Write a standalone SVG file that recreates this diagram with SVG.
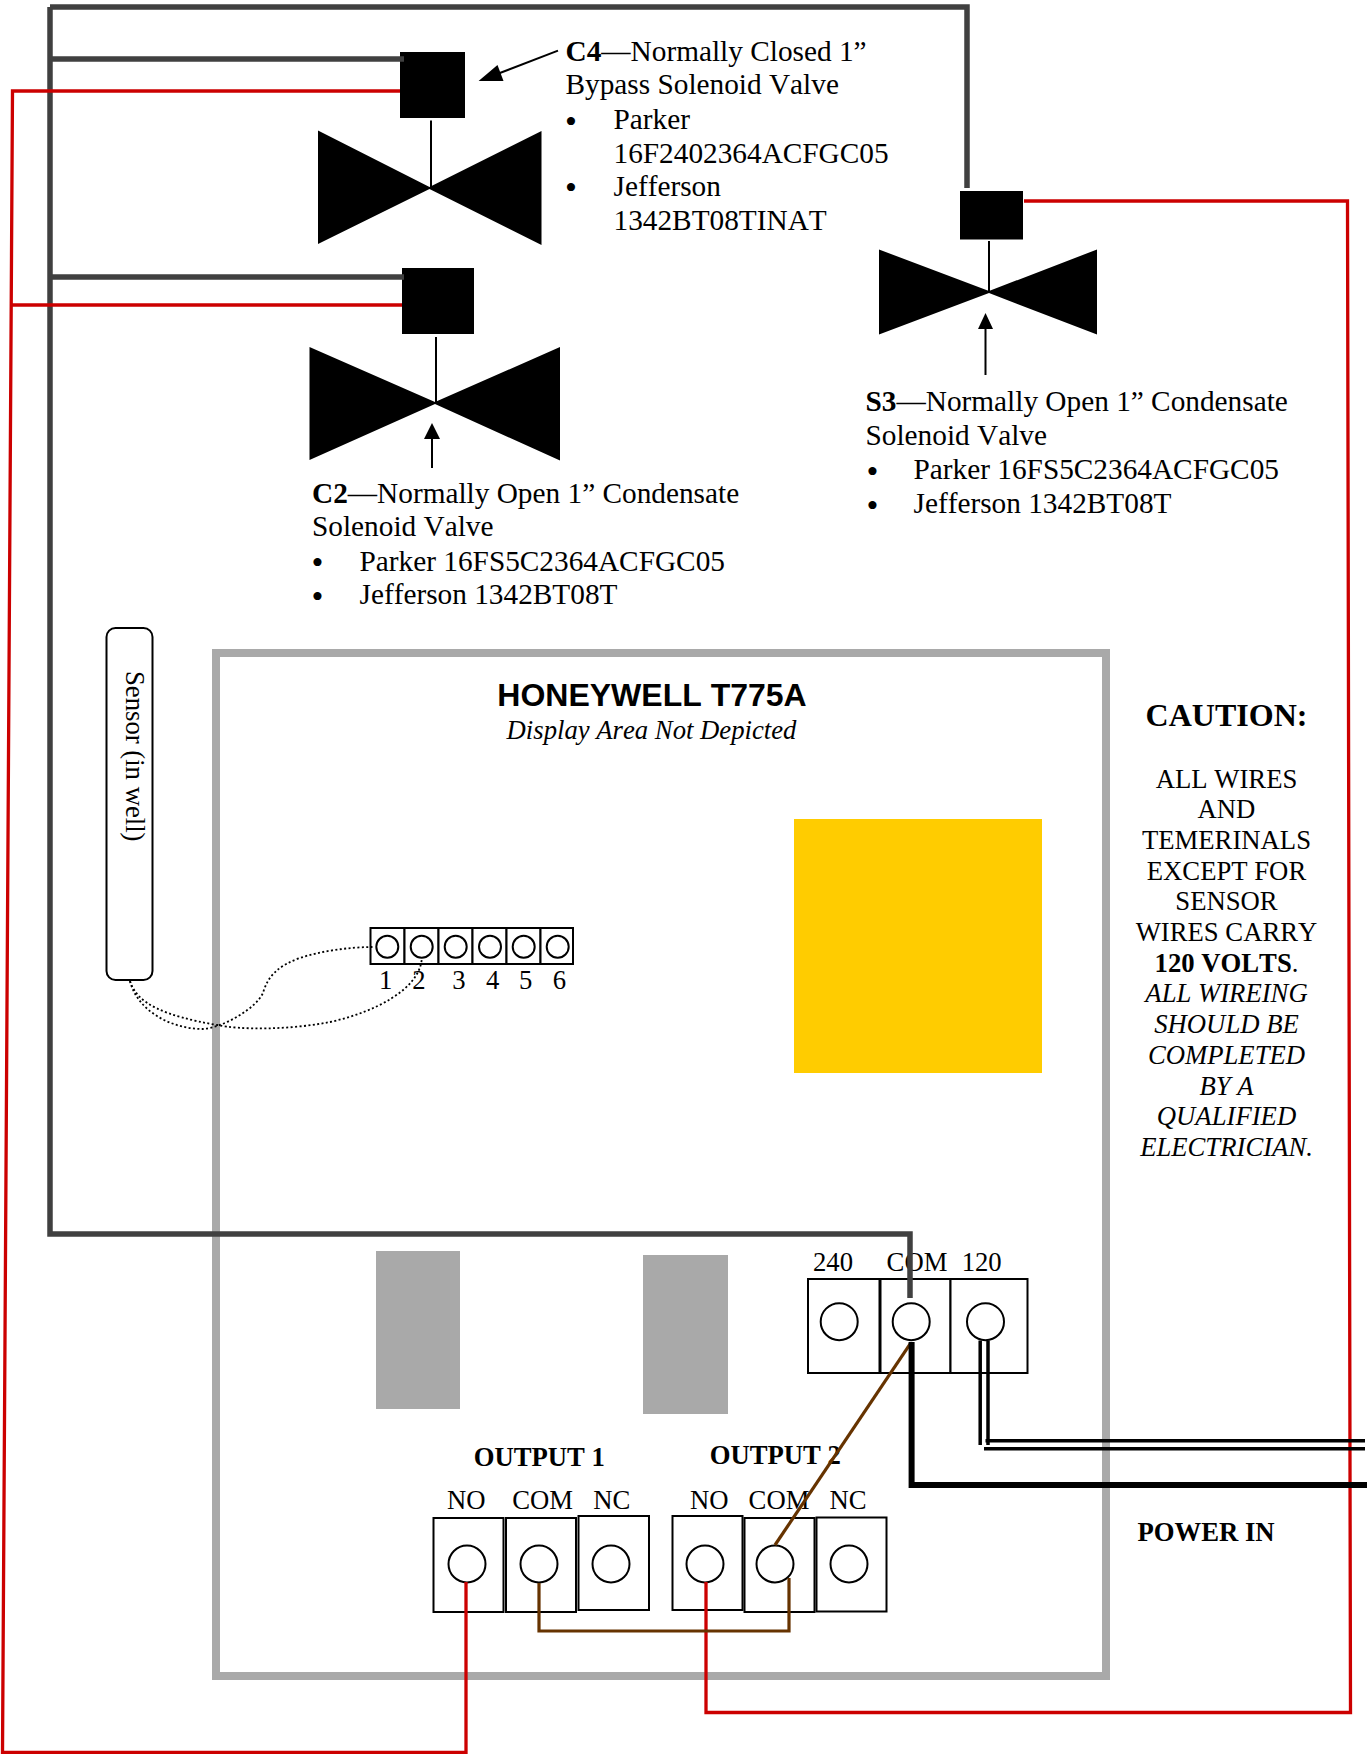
<svg xmlns="http://www.w3.org/2000/svg" width="1367" height="1754" viewBox="0 0 1367 1754">
<style>
text{font-family:"Liberation Serif","Times New Roman",serif;fill:#000;font-kerning:none}
.t{font-size:29.3px}
.s{font-size:26.7px}
.m{text-anchor:middle}
.b{font-weight:bold}
.i{font-style:italic}
.bu{font-size:34px;text-anchor:middle}
.box{fill:#fff;stroke:#000;stroke-width:2}
.hole{fill:none;stroke:#000;stroke-width:2}
.st{stroke:#000;stroke-width:2;fill:none}
.wire{fill:none;stroke-linejoin:miter}
.dk{stroke:#404040;stroke-width:5.500}
.rd{stroke:#cc0000;stroke-width:3.300}
.br{stroke:#663300;stroke-width:3.200}
.bk{stroke:#000}
.dot{fill:none;stroke:#000;stroke-width:1.800;stroke-dasharray:2 2.400}
</style>
<rect width="1367" height="1754" fill="#fff"/>
<g id="controller">
<rect x="216" y="653" width="890" height="1023" fill="#fff" stroke="#a9a9a9" stroke-width="8"/>
<text x="652" y="706" text-anchor="middle" style="font-family:'Liberation Sans',Arial,sans-serif;font-weight:bold;font-size:32px">HONEYWELL T775A</text>
<text x="651.500" y="739" class="s m i">Display Area Not Depicted</text>
<rect x="794" y="819" width="248" height="254" fill="#ffcc00"/>
<rect x="376" y="1251" width="84" height="158" fill="#a9a9a9"/>
<rect x="643" y="1255" width="85" height="159" fill="#a9a9a9"/>
</g>
<g id="valve-c4">
<rect x="400" y="52" width="65" height="66"/>
<path class="st" d="M431 120.500V187"/>
<path d="M318 130.500L429.500 187L541.500 131V245L429.500 189L318 244Z"/>
<path d="M558 50.600L492 76" class="st"/>
<path d="M478.600 81L497.500 65L503.500 81Z"/>
<text x="565.500" y="60.500" class="t"><tspan class="b">C4</tspan>—Normally Closed 1”</text>
<text x="565.500" y="94" class="t">Bypass Solenoid Valve</text>
<text x="571" y="132.600" class="bu">•</text>
<text x="613.500" y="129" class="t">Parker</text>
<text x="613.500" y="163" class="t">16F2402364ACFGC05</text>
<text x="571" y="199.100" class="bu">•</text>
<text x="613.500" y="196" class="t">Jefferson</text>
<text x="613.500" y="230" class="t">1342BT08TINAT</text>
</g>
<g id="valve-c2">
<rect x="402" y="268" width="72" height="66"/>
<path class="st" d="M436 337V403"/>
<path d="M309.500 347L435 402L560 347V460.500L435 404L309.500 460Z"/>
<path class="st" d="M432 468V435"/>
<path d="M432 423L440 439H424Z"/>
<text x="312" y="503" class="t"><tspan class="b">C2</tspan>—Normally Open 1” Condensate</text>
<text x="312" y="536" class="t">Solenoid Valve</text>
<text x="317.500" y="574.100" class="bu">•</text>
<text x="359.500" y="570.500" class="t">Parker 16FS5C2364ACFGC05</text>
<text x="317.500" y="607.600" class="bu">•</text>
<text x="359.500" y="604" class="t">Jefferson 1342BT08T</text>
</g>
<g id="valve-s3">
<rect x="960" y="191" width="63" height="48.500"/>
<path class="st" d="M989 241V292"/>
<path d="M879 249.500L989 291L1097 249.500V334.500L989 293L879 334.500Z"/>
<path class="st" d="M985.500 375V325"/>
<path d="M985.500 313L993 329H978Z"/>
<text x="865.500" y="411" class="t"><tspan class="b">S3</tspan>—Normally Open 1” Condensate</text>
<text x="865.500" y="445" class="t">Solenoid Valve</text>
<text x="872.500" y="482.600" class="bu">•</text>
<text x="913.500" y="479" class="t">Parker 16FS5C2364ACFGC05</text>
<text x="872.500" y="516.600" class="bu">•</text>
<text x="913.500" y="513" class="t">Jefferson 1342BT08T</text>
</g>
<g id="sensor">
<rect x="106.500" y="628" width="46" height="352" rx="9" class="box"/>
<text transform="translate(126 671) rotate(90)" class="s">Sensor (in well)</text>
</g>
<g id="sensor-terminals">
<rect x="370.500" y="928" width="34" height="36" class="box"/>
<rect x="404.500" y="928" width="34" height="36" class="box"/>
<rect x="438.500" y="928" width="34" height="36" class="box"/>
<rect x="472.500" y="928" width="34" height="36" class="box"/>
<rect x="506.500" y="928" width="34" height="36" class="box"/>
<rect x="540.500" y="928" width="32.500" height="36" class="box"/>
<circle cx="387.300" cy="946.700" r="11" class="hole"/>
<circle cx="421.700" cy="946.700" r="11" class="hole"/>
<circle cx="455.700" cy="946.700" r="11" class="hole"/>
<circle cx="490" cy="946.700" r="11" class="hole"/>
<circle cx="523.700" cy="946.700" r="11" class="hole"/>
<circle cx="557.700" cy="946.700" r="11" class="hole"/>
<text x="385.700" y="989" class="s m">1</text>
<text x="419" y="989" class="s m">2</text>
<text x="459" y="989" class="s m">3</text>
<text x="492.700" y="989" class="s m">4</text>
<text x="525.700" y="989" class="s m">5</text>
<text x="559.300" y="989" class="s m">6</text>
</g>
<g id="power-terminals">
<rect x="808" y="1279" width="71.500" height="94" class="box"/>
<rect x="880.500" y="1279" width="70" height="94" class="box"/>
<rect x="950.500" y="1279" width="77" height="94" class="box"/>
<circle cx="839.200" cy="1321.700" r="18.500" class="hole"/>
<circle cx="911.200" cy="1321.700" r="18.500" class="hole"/>
<circle cx="985.500" cy="1321.700" r="18.500" class="hole"/>
<text x="833" y="1271" class="s m">240</text>
<text x="917" y="1271" class="s m">COM</text>
<text x="981.700" y="1271" class="s m">120</text>
</g>
<g id="output-1">
<rect x="433.500" y="1518" width="70" height="94" class="box"/>
<rect x="506" y="1518" width="70" height="94" class="box"/>
<rect x="578.500" y="1516" width="70.500" height="94" class="box"/>
<circle cx="467" cy="1564" r="18.500" class="hole"/>
<circle cx="539" cy="1564" r="18.500" class="hole"/>
<circle cx="611" cy="1564" r="18.500" class="hole"/>
<text x="539.300" y="1466" class="s m b">OUTPUT 1</text>
<text x="466.300" y="1509" class="s m">NO</text>
<text x="542.700" y="1509" class="s m">COM</text>
<text x="611.700" y="1509" class="s m">NC</text>
</g>
<g id="output-2">
<rect x="672.500" y="1516" width="70" height="94" class="box"/>
<rect x="744.500" y="1518" width="70" height="94" class="box"/>
<rect x="816.500" y="1517.500" width="70" height="94" class="box"/>
<circle cx="705" cy="1564" r="18.500" class="hole"/>
<circle cx="775" cy="1564" r="18.500" class="hole"/>
<circle cx="849" cy="1564" r="18.500" class="hole"/>
<text x="775.300" y="1464" class="s m b">OUTPUT 2</text>
<text x="709.300" y="1509" class="s m">NO</text>
<text x="779" y="1509" class="s m">COM</text>
<text x="848" y="1509" class="s m">NC</text>
</g>
<g id="caution">
<text x="1226.500" y="726" class="m b" style="font-size:32px">CAUTION:</text>
<text x="1226.500" y="787.500" class="s m">ALL WIRES</text>
<text x="1226.500" y="818" class="s m">AND</text>
<text x="1226.500" y="849" class="s m">TEMERINALS</text>
<text x="1226.500" y="880" class="s m">EXCEPT FOR</text>
<text x="1226.500" y="910" class="s m">SENSOR</text>
<text x="1226.500" y="941" class="s m">WIRES CARRY</text>
<text x="1226.500" y="971.500" class="s m"><tspan class="b">120 VOLTS</tspan>.</text>
<text x="1226.500" y="1002" class="s m i">ALL WIREING</text>
<text x="1226.500" y="1033" class="s m i">SHOULD BE</text>
<text x="1226.500" y="1063.500" class="s m i">COMPLETED</text>
<text x="1226.500" y="1094.500" class="s m i">BY A</text>
<text x="1226.500" y="1125" class="s m i">QUALIFIED</text>
<text x="1226.500" y="1156" class="s m i">ELECTRICIAN.</text>
</g>
<g id="power-in">
<text x="1206" y="1540.500" class="s m b">POWER IN</text>
</g>
<g id="connectors" class="wire">
<path class="wire dk" d="M404 59H50M50 7V1234H910V1298M50 7H967V188M50 277H404"/>
<path class="wire rd" d="M400 91H12.500L2.500 1752.500H466V1582M402 305H11"/>
<path class="wire rd" d="M1024 201H1347.500L1350.500 1712.500H706V1582"/>
<path class="wire br" d="M539 1583V1631H789V1578"/>
<path class="wire br" d="M911 1342.700L775 1545"/>
<path class="wire bk" stroke-width="6" d="M911.600 1342V1485H1367"/>
<path class="wire bk" stroke-width="3.500" d="M980.200 1340.500V1445M988 1340.500V1445M985.500 1440.700H1365M984 1448.700H1365"/>
<path class="dot" d="M130 981C137 1004 165 1016 217 1025C240 1030 290 1030 330 1022C375 1012 418 990 421.700 960"/>
<path class="dot" d="M130 981C137 1010 170 1029 203 1029C225 1027 256 1008 263 993C268 975 280 965 300 958C320 951 350 947 373 947"/>
</g>
</svg>
